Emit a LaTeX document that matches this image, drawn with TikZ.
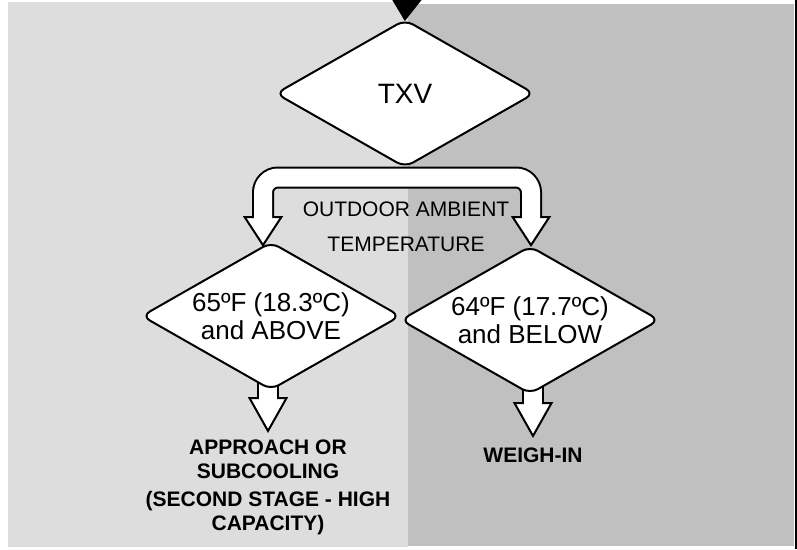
\documentclass[tikz,border=0pt]{standalone}
\usepackage{fontspec}
\setmainfont{Liberation Sans}
\usetikzlibrary{arrows.meta,backgrounds,positioning,shapes.geometric}
\definecolor{warmside}{HTML}{DDDDDD}
\definecolor{coldside}{HTML}{C0C0C0}

\begin{document}
\begin{tikzpicture}[
    x=1pt, y=-1pt,
    every node/.style={inner sep=0pt},
    valve/.style={diamond, draw, fill=white, line width=2pt, rounded corners=9pt, aspect=1.75, minimum width=259pt, minimum height=148pt, align=center},
    remark/.style={align=center, font=\fontsize{21}{35}\selectfont},
    outcome/.style={align=center, font=\fontsize{21}{23.5}\selectfont\bfseries},
    feed/.style={-{Triangle[width=33pt, length=24pt]}, line width=1pt},
    fatline/.style={line width=22pt, black},
    fatfill/.style={line width=18pt, white},
    forktip/.tip={Triangle[width=40pt, length=31pt, line width=2pt, fill=white]},
    droptip/.tip={Triangle[width=40pt, length=36pt, line width=2pt, fill=white]}
]
    \useasboundingbox (0,0) rectangle (797,549);
    \begin{scope}[on background layer]
        \fill[warmside] (8,2) rectangle (408,547);
        \fill[coldside] (408,4) rectangle (794,546);
        \fill[black] (795,0) rectangle (797,549);
    \end{scope}

    \node[valve, font=\fontsize{28}{30}\selectfont] (txv) at (405,93.5) {TXV};
    \node[valve, font=\fontsize{26}{28}\selectfont] (warm) at (271,316) {65ºF (18.3ºC)\\and ABOVE};
    \node[valve, font=\fontsize{26}{28}\selectfont] (cold) at (530,320) {64ºF (17.7ºC)\\and BELOW};
    \node[remark] (ambient) at (406,227) {OUTDOOR AMBIENT\\TEMPERATURE};

    \coordinate (inlet) at (407,-12);
    \coordinate (fork) at (405,177.5);
    \coordinate (warmtip) at (263,247);
    \coordinate (coldtip) at (531,247);
    \coordinate (warmend) at (268,433);
    \coordinate (coldend) at (533,438);

    \node[outcome, below=7pt of warmend] (approach) {APPROACH OR\\SUBCOOLING\\[5pt](SECOND STAGE - HIGH\\CAPACITY)};
    \node[outcome, below=10pt of coldend] (weigh) {WEIGH-IN};

    \draw[feed, shorten >=-2.5pt] (inlet) -- (txv.north);

    % hollow arrows sit behind the diamonds
    \begin{scope}[on background layer, rounded corners=15pt]
        \draw[fatline, {forktip}-{forktip}] (warmtip) |- (fork) -| (coldtip);
        \draw[fatfill, shorten <=27pt, shorten >=27pt] (warmtip) |- (fork) -| (coldtip);
        \draw[fatline, -{droptip}] (warmend |- warm) -- (warmend);
        \draw[fatfill, shorten >=32pt] (warmend |- warm) -- (warmend);
        \draw[fatline, -{droptip}] (coldend |- cold) -- (coldend);
        \draw[fatfill, shorten >=32pt] (coldend |- cold) -- (coldend);
    \end{scope}
\end{tikzpicture}
\end{document}
